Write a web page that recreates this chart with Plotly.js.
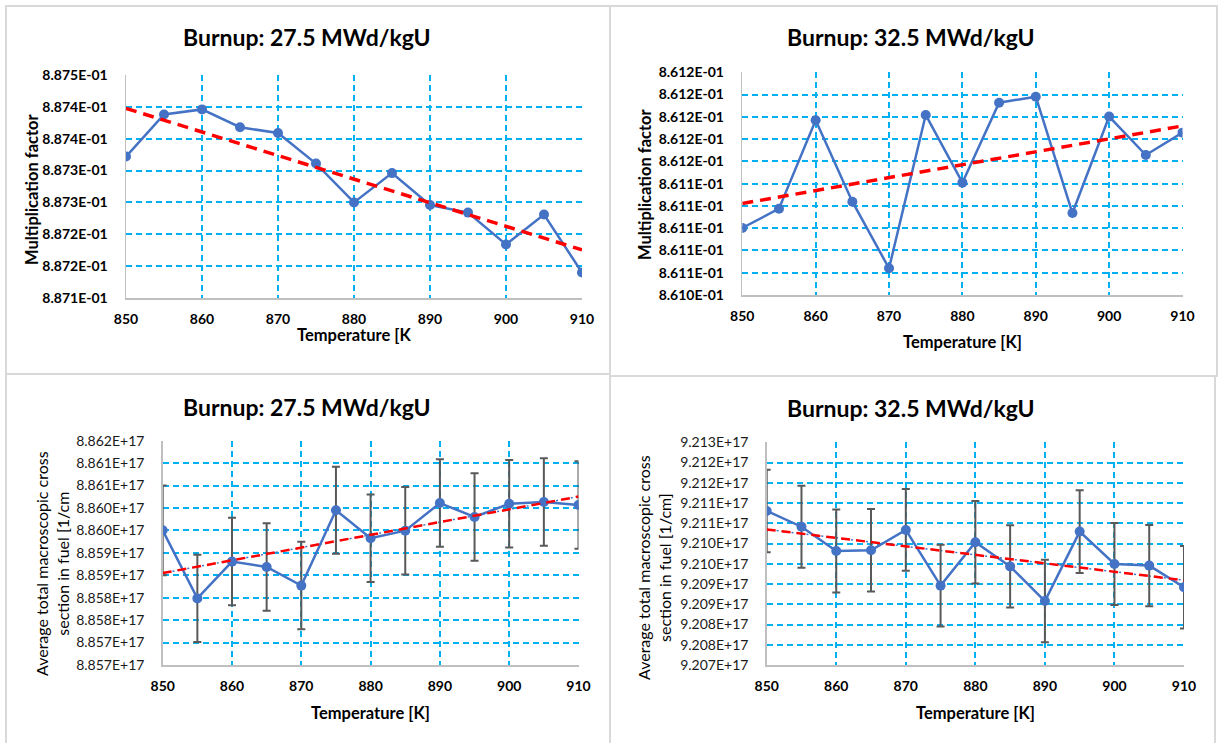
<!DOCTYPE html>
<html>
<head>
<meta charset="utf-8">
<script src="https://cdn.plot.ly/plotly-3.0.1.min.js"></script>
<style>html,body{margin:0;padding:0;background:#fff;}#chart{width:1223px;height:743px;}</style>
</head>
<body>
<div id="chart"></div>
<script>
// ---------- data ----------
const temperature = [850, 855, 860, 865, 870, 875, 880, 885, 890, 895, 900, 905, 910];

const kBurnup275 = [0.887372, 0.887438, 0.887446, 0.887418, 0.887409, 0.887361, 0.887300,
                    0.887346, 0.887296, 0.887284, 0.887234, 0.887281, 0.887190];
const kBurnup325 = [0.8611002, 0.8611175, 0.8611969, 0.8611238, 0.8610640, 0.8612017, 0.8611409,
                    0.8612127, 0.8612181, 0.8611136, 0.8612002, 0.8611657, 0.8611858];

const sigmaBurnup275 = [8.8595025e17, 8.857985e17, 8.858805e17, 8.858685e17, 8.858270e17, 8.859950e17, 8.859325e17,
                        8.859495e17, 8.860110e17, 8.859800e17, 8.860095e17, 8.860135e17, 8.860065e17];
const sigmaErr275 = [1.00e14, 0.975e14, 0.975e14, 0.975e14, 0.975e14, 0.97e14, 0.975e14,
                     0.975e14, 0.975e14, 0.975e14, 0.975e14, 0.975e14, 0.975e14];

const sigmaBurnup325 = [9.2108045e17, 9.210415e17, 9.209815e17, 9.209835e17, 9.210335e17, 9.208960e17, 9.210030e17,
                        9.209435e17, 9.208580e17, 9.210295e17, 9.209495e17, 9.209455e17, 9.208920e17];
const sigmaErr325 = [1.02e14, 1.013e14, 1.025e14, 1.017e14, 1.01e14, 1.01e14, 1.02e14,
                     1.017e14, 1.017e14, 1.02e14, 1.013e14, 1.005e14, 1.017e14];

const xTickVals = [850, 860, 870, 880, 890, 900, 910];
const xTickText = ['850', '860', '870', '880', '890', '900', '910'];

const yTickVals1 = [0.88715, 0.8872, 0.88725, 0.8873, 0.88735, 0.8874, 0.88745, 0.8875];
const yTickText1 = ['8.871E-01', '8.872E-01', '8.872E-01', '8.873E-01', '8.873E-01', '8.874E-01', '8.874E-01', '8.875E-01'];

const yTickVals2 = [0.86104, 0.86106, 0.86108, 0.86110, 0.86112, 0.86114, 0.86116, 0.86118, 0.86120, 0.86122, 0.86124];
const yTickText2 = ['8.610E-01', '8.611E-01', '8.611E-01', '8.611E-01', '8.611E-01', '8.611E-01',
                    '8.612E-01', '8.612E-01', '8.612E-01', '8.612E-01', '8.612E-01'];

const yTickVals3 = [8.8565e17, 8.857e17, 8.8575e17, 8.858e17, 8.8585e17, 8.859e17, 8.8595e17, 8.860e17, 8.8605e17, 8.861e17, 8.8615e17];
const yTickText3 = ['8.857E+17', '8.857E+17', '8.858E+17', '8.858E+17', '8.859E+17', '8.859E+17',
                    '8.860E+17', '8.860E+17', '8.861E+17', '8.861E+17', '8.862E+17'];

const yTickVals4 = [9.207e17, 9.2075e17, 9.208e17, 9.2085e17, 9.209e17, 9.2095e17, 9.210e17, 9.2105e17, 9.211e17, 9.2115e17, 9.212e17, 9.2125e17];
const yTickText4 = ['9.207E+17', '9.208E+17', '9.208E+17', '9.209E+17', '9.209E+17', '9.210E+17',
                    '9.210E+17', '9.211E+17', '9.211E+17', '9.212E+17', '9.212E+17', '9.213E+17'];

const panelTitles = ['Burnup: 27.5 MWd/kgU', 'Burnup: 32.5 MWd/kgU', 'Burnup: 27.5 MWd/kgU', 'Burnup: 32.5 MWd/kgU'];
const xTitles = ['Temperature [K', 'Temperature [K]', 'Temperature [K]', 'Temperature [K]'];
const yTitles = ['Multiplication factor', 'Multiplication factor',
                 'Average total macroscopic cross<br>section in fuel [1/cm',
                 'Average total macroscopic cross<br>section in fuel [1/cm]'];

// ---------- helpers ----------
const W = 1223, H = 743;
const px = v => v / W;
const py = v => 1 - v / H;
const FONT = 'Lato, "Open Sans", sans-serif';
const BLUE = '#4472C4', RED = '#FF0000', GRID = '#00B0F0';

function linFit(xs, ys) {
  const n = xs.length;
  const mx = xs.reduce((a, b) => a + b, 0) / n;
  const my = ys.reduce((a, b) => a + b, 0) / n;
  let sxy = 0, sxx = 0;
  for (let i = 0; i < n; i++) { sxy += (xs[i] - mx) * (ys[i] - my); sxx += (xs[i] - mx) ** 2; }
  const b = sxy / sxx, a = my - b * mx;
  const xe = [xs[0], xs[n - 1]];
  return { x: xe, y: xe.map(x => a + b * x) };
}

const traces = [];
function addPanel(idx, ys, errs, dotted) {
  const xa = idx === 1 ? 'x' : 'x' + idx;
  const ya = idx === 1 ? 'y' : 'y' + idx;
  const fit = linFit(temperature, ys);
  if (dotted) {
    traces.push({ x: fit.x, y: fit.y, xaxis: xa, yaxis: ya, mode: 'lines', hoverinfo: 'skip',
      line: { color: BLUE, width: 1.5, dash: '2px,3px' }, showlegend: false });
  }
  traces.push({ x: temperature, y: ys, xaxis: xa, yaxis: ya, mode: 'lines+markers',
    line: { color: BLUE, width: 2.5 }, marker: { color: BLUE, size: 10 },
    error_y: errs ? { type: 'data', array: errs, visible: true, color: '#595959', thickness: 2, width: 4 } : undefined,
    showlegend: false });
  traces.push({ x: fit.x, y: fit.y, xaxis: xa, yaxis: ya, mode: 'lines', hoverinfo: 'skip',
    line: { color: RED, width: dotted ? 2.5 : 3.5, dash: dotted ? '9px,6px' : '11px,7px' }, showlegend: false });
}
addPanel(1, kBurnup275, null, false);
addPanel(2, kBurnup325, null, false);
addPanel(3, sigmaBurnup275, sigmaErr275, true);
addPanel(4, sigmaBurnup325, sigmaErr325, true);

function xAxis(d0, d1, anchor) {
  return { domain: [px(d0), px(d1)], anchor: anchor, range: [850, 910], tickmode: 'array',
    tickvals: xTickVals, ticktext: xTickText, showgrid: true, gridcolor: GRID, gridwidth: 2, griddash: '6px,4px',
    showline: true, linecolor: '#BFBFBF', linewidth: 1.5, zeroline: false, ticks: '', ticklabelstandoff: 8,
    tickfont: { family: FONT, size: 14, color: '#000', weight: 'bold' }, fixedrange: true };
}
function yAxis(top, bottom, anchor, range, vals, text, bold) {
  return { domain: [py(bottom), py(top)], anchor: anchor, range: range, tickmode: 'array',
    tickvals: vals, ticktext: text, showgrid: true, gridcolor: GRID, gridwidth: 2, griddash: '6px,4px',
    showline: true, linecolor: '#BFBFBF', linewidth: 1.5, zeroline: false, ticks: '', ticklabelstandoff: 14,
    tickfont: { family: FONT, size: 14, color: bold ? '#000' : '#1a1a1a', weight: bold ? 'bold' : 'normal' }, fixedrange: true };
}

const layout = {
  width: W, height: H, margin: { l: 0, r: 0, t: 0, b: 0 }, paper_bgcolor: '#fff', plot_bgcolor: '#fff',
  showlegend: false,
  xaxis: xAxis(126, 582, 'y'),
  yaxis: yAxis(75, 298, 'x', [0.88715, 0.8875], yTickVals1, yTickText1, true),
  xaxis2: xAxis(742.3, 1182.5, 'y2'),
  yaxis2: yAxis(72.3, 295, 'x2', [0.86104, 0.86124], yTickVals2, yTickText2, true),
  xaxis3: xAxis(162.7, 578.5, 'y3'),
  yaxis3: yAxis(440.7, 665, 'x3', [8.8565e17, 8.8615e17], yTickVals3, yTickText3, false),
  xaxis4: xAxis(766.7, 1184, 'y4'),
  yaxis4: yAxis(442.3, 665, 'x4', [9.207e17, 9.2125e17], yTickVals4, yTickText4, false),
  shapes: [
    [6, 6, 610, 374], [610, 6, 1217, 376], [6, 374, 610, 760], [610, 376, 1215, 760]
  ].map(r => ({ type: 'rect', xref: 'paper', yref: 'paper', x0: px(r[0]), x1: px(r[2]), y0: py(r[1]), y1: py(r[3]),
    line: { color: '#D9D9D9', width: 2 }, fillcolor: 'rgba(0,0,0,0)', layer: 'below' })),
  annotations: []
};

const titlePos = [[307, 37], [911, 37], [307, 407], [911, 408]];
const xTitlePos = [[354, 335], [962, 342], [370, 713], [975, 713]];
const yTitlePos = [[32, 189], [645, 184], [52, 564], [654, 567]];
for (let i = 0; i < 4; i++) {
  layout.annotations.push({ text: panelTitles[i], xref: 'paper', yref: 'paper', x: px(titlePos[i][0]), y: py(titlePos[i][1]),
    xanchor: 'center', yanchor: 'middle', showarrow: false, font: { family: FONT, size: 23, color: '#000', weight: 'bold' } });
  layout.annotations.push({ text: xTitles[i], xref: 'paper', yref: 'paper', x: px(xTitlePos[i][0]), y: py(xTitlePos[i][1]),
    xanchor: 'center', yanchor: 'middle', showarrow: false, font: { family: FONT, size: 16.5, color: '#000', weight: 'bold' } });
  layout.annotations.push({ text: yTitles[i], xref: 'paper', yref: 'paper', x: px(yTitlePos[i][0]), y: py(yTitlePos[i][1]),
    xanchor: 'center', yanchor: 'middle', textangle: -90, showarrow: false,
    font: { family: FONT, size: i < 2 ? 16.5 : 16, color: '#000', weight: i < 2 ? 'bold' : 'normal' } });
}

Plotly.newPlot('chart', traces, layout, { staticPlot: true, displayModeBar: false });
</script>
</body>
</html>
